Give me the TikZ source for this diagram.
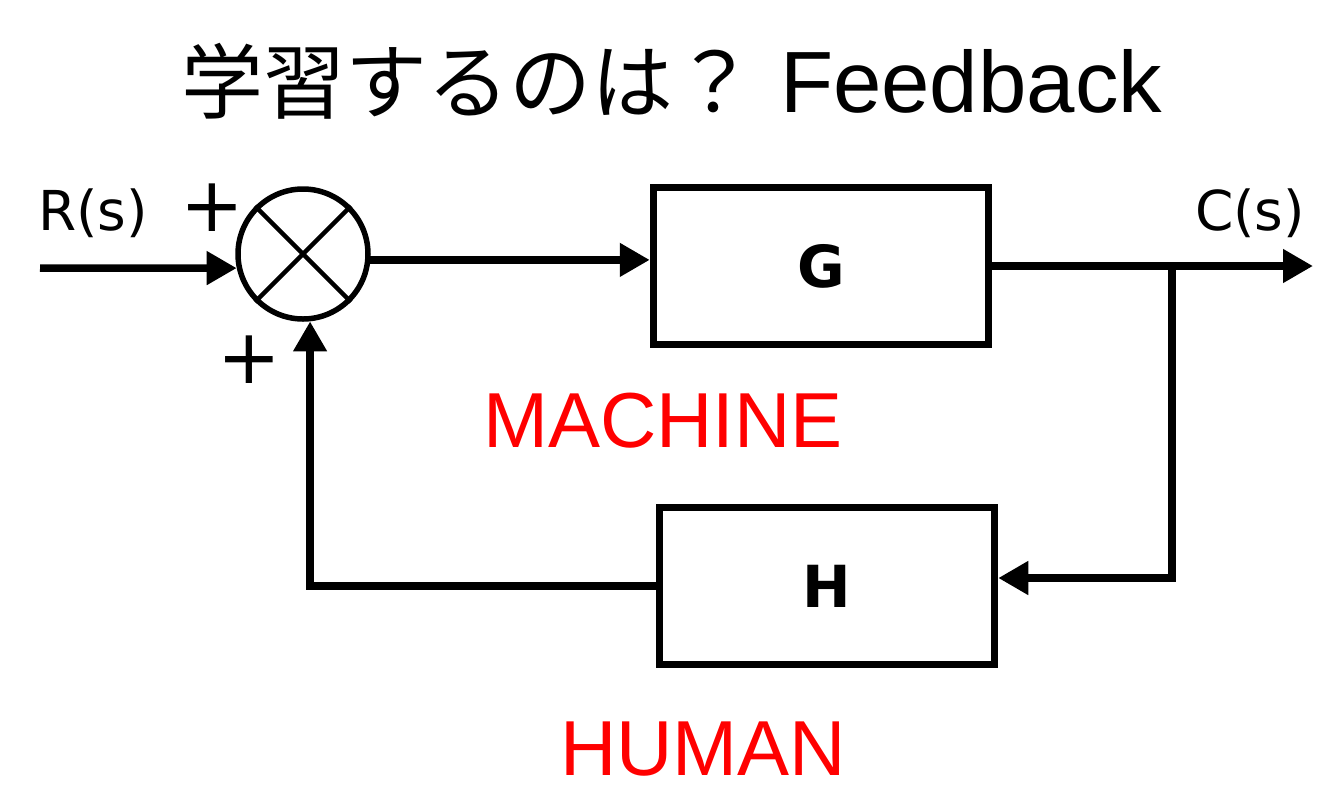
\documentclass[tikz,border=0pt]{standalone}
\usepackage{fontspec}
\setmainfont{Liberation Sans}
\newfontfamily\jpfont{Noto Sans CJK JP}
\newfontfamily\verdfont{DejaVu Sans}
\usetikzlibrary{arrows.meta}

\begin{document}
\begin{tikzpicture}[x=1pt, y=-1pt,
  block/.style={draw, line width=7.5pt, minimum width=335pt, minimum height=157pt, inner sep=0pt, font=\verdfont\bfseries\fontsize{58}{60}\selectfont},
  sumnode/.style={draw, circle, line width=5.5pt, minimum size=130pt, inner sep=0pt},
  wire/.style={line width=7.5pt},
  arr/.style={wire, -{Triangle[length=30pt,width=32pt]}},
  sig/.style={font=\verdfont\fontsize{55}{60}\selectfont},
  sgn/.style={font=\verdfont\fontsize{76}{76}\selectfont},
  tag/.style={text=red, font=\fontsize{78}{80}\selectfont}]
\useasboundingbox (0,0) rectangle (1338,801);
% Title
\node[anchor=base, font=\fontsize{87}{90}\selectfont] (title) at (672,112) {{\jpfont\fontsize{82}{90}\selectfont 学習するのは？} Feedback};
% Nodes
\node[sumnode] (sum) at (303,254) {};
\node[block] (G) at (821,266) {G};
\node[block] (H) at (827,586) {H};
\node[sig] (R) at (93,213) {R(s)};
\node[sig] (C) at (1250,213) {C(s)};
\node[sgn] (p1) at (212,208) {+};
\node[sgn] (p2) at (249,360) {+};
\node[tag] (mach) at (663,421) {MACHINE};
\node[tag] (hum) at (703,749) {HUMAN};
\coordinate (in) at (40,268);
\coordinate (out) at (1313,266);
\coordinate (br) at (1172,266);
\coordinate (fb) at (1172,578);
% Cross in the summing point
\draw[line width=4.5pt] (sum.45) -- (sum.225) (sum.135) -- (sum.315);
% Edges
  \draw[arr] (in) -- (sum.192);
  \draw[arr] (sum.-5) -- (sum.-5 -| G.west);
  \draw[arr] (G.east) -- (G.east -| out);
  \draw[arr] (br) -- (fb) -- (fb -| H.east);
  \draw[arr] (H.west) -| (sum.-84);
\end{tikzpicture}
\end{document}
